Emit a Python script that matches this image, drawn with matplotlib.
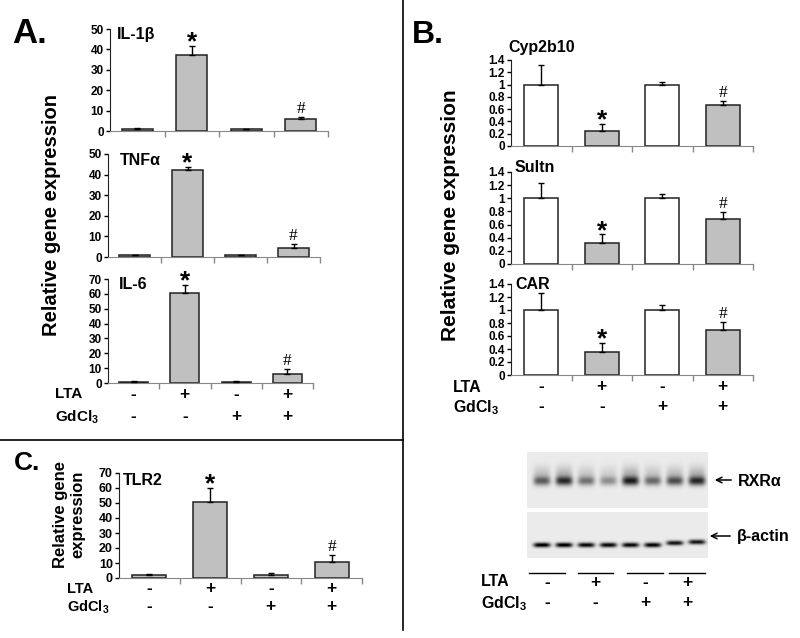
import numpy as np
import matplotlib
matplotlib.use('Agg')
import matplotlib.pyplot as plt
from matplotlib.ticker import FuncFormatter
from matplotlib.transforms import blended_transform_factory

plt.rcParams['font.family'] = ['Liberation Sans', 'DejaVu Sans']
plt.rcParams['font.weight'] = 'bold'
plt.rcParams['mathtext.fontset'] = 'custom'
plt.rcParams['mathtext.rm'] = 'Liberation Sans'
plt.rcParams['mathtext.bf'] = 'Liberation Sans:bold'

# treatment groups
lta = ['-', '+', '-', '+']
gdcl3 = ['-', '-', '+', '+']
star = [False, True, False, False]
hashm = [False, False, False, True]

# A. cytokines
il1b = [1.2, 37.5, 1.0, 5.8]
il1b_err = [0.2, 4.0, 0.2, 1.0]
tnfa = [1.0, 42.0, 1.0, 4.3]
tnfa_err = [0.2, 1.7, 0.2, 2.0]
il6 = [1.0, 60.5, 1.0, 6.3]
il6_err = [0.2, 5.5, 0.5, 3.0]

# C. TLR2
tlr2 = [1.8, 50.5, 1.8, 10.7]
tlr2_err = [1.1, 9.5, 1.8, 4.5]

# B. nuclear receptor targets
cyp2b10 = [1.0, 0.25, 1.0, 0.66]
cyp2b10_err = [0.32, 0.11, 0.05, 0.07]
sultn = [1.0, 0.32, 1.0, 0.69]
sultn_err = [0.24, 0.13, 0.06, 0.10]
car = [1.0, 0.36, 1.0, 0.70]
car_err = [0.26, 0.13, 0.07, 0.11]

# western blot, 8 lanes (2 per group)
rxra_band = [0.50, 0.68, 0.42, 0.32, 0.72, 0.45, 0.55, 0.68]
actin_band = [0.95, 0.95, 0.90, 0.90, 0.90, 0.92, 0.85, 0.85]
actin_row = [545, 545, 545, 545, 545, 545, 543, 542]

W, H = 800, 638
fig = plt.figure(figsize=(8, 6.38), dpi=100)
fig.patch.set_facecolor('white')

# overlay in pixel coords for free text and lines
ov = fig.add_axes([0, 0, 1, 1], zorder=5)
ov.set_xlim(0, W)
ov.set_ylim(H, 0)
ov.axis('off')

GRAY = '#c0c0c0'


def px_axes(x0, y0, x1, y1):
    return fig.add_axes([x0 / W, 1 - y1 / H, (x1 - x0) / W, (y1 - y0) / H])


def bar_panel(box, vals, errs, ymax, ystep, colors, fs_tick=8.5, width=0.57):
    ax = px_axes(*box)
    x = np.arange(4) + 0.5
    ax.bar(x, vals, width=width, color=colors, edgecolor='#222222', linewidth=1.1, zorder=2)
    ax.errorbar(x, vals, yerr=[np.zeros(4), errs], fmt='none', ecolor='black',
                elinewidth=1, capsize=2.5, capthick=1, zorder=3)
    ax.set_xlim(0, 4)
    ax.set_ylim(0, ymax)
    ax.set_yticks(np.arange(0, ymax + ystep / 2, ystep))
    ax.yaxis.set_major_formatter(FuncFormatter(lambda v, p: f'{v:g}'))
    ax.set_xticks([1, 2, 3, 4])
    ax.set_xticklabels([])
    for s in ['top', 'right']:
        ax.spines[s].set_visible(False)
    ax.spines['left'].set_color('#222222')
    ax.spines['bottom'].set_color('#888888')
    ax.tick_params(axis='y', length=3, width=1, pad=1.5, labelsize=fs_tick, colors='black')
    ax.tick_params(axis='x', length=4, width=1, color='#888888')
    ax.patch.set_alpha(0)
    for i in range(4):
        top = vals[i] + errs[i]
        if star[i]:
            ax.annotate('*', (x[i], top), xytext=(0, -2.5), textcoords='offset points',
                        ha='center', va='baseline', fontsize=19, fontweight='bold')
        if hashm[i]:
            ax.annotate('#', (x[i], top), xytext=(0, 3.2), textcoords='offset points',
                        ha='center', va='baseline', fontsize=12.5, fontweight='normal',
                        family='Liberation Serif')
    return ax


def sign_rows(ax, xlab, y1, y2, fs=11, sfs=12.5):
    tr = blended_transform_factory(ax.transData, ov.transData)
    ov.text(xlab, y1, 'LTA', ha='left', va='center', fontsize=fs)
    ov.text(xlab, y2 + 1, 'GdCl$_3$', ha='left', va='center', fontsize=fs)
    for i in range(4):
        ax.text(i + 0.5, y1, lta[i], transform=tr, ha='center', va='center', fontsize=sfs)
        ax.text(i + 0.5, y2, gdcl3[i], transform=tr, ha='center', va='center', fontsize=sfs)


# ---- panel A
a1 = bar_panel((110, 29, 328, 131), il1b, il1b_err, 50, 10, [GRAY] * 4)
a2 = bar_panel((108, 154, 320, 257), tnfa, tnfa_err, 50, 10, [GRAY] * 4)
a3 = bar_panel((108, 279, 313, 383), il6, il6_err, 70, 10, [GRAY] * 4)
sign_rows(a3, 55, 394, 416)
ov.text(117, 39.5, 'IL-1β', fontsize=11.5, va='baseline')
ov.text(120, 165, 'TNFα', fontsize=11.5, va='baseline')
ov.text(119, 289, 'IL-6', fontsize=11.5, va='baseline')
ov.text(52, 215, 'Relative gene expression', rotation=90, ha='center', va='center', fontsize=14.5)
ov.text(12, 43, 'A.', fontsize=25, va='baseline')

# ---- panel C
c1 = bar_panel((119, 473, 362, 578), tlr2, tlr2_err, 70, 10, [GRAY] * 4, fs_tick=9, width=0.56)
sign_rows(c1, 67, 589, 606, fs=10.5)
ov.text(123, 485, 'TLR2', fontsize=11.5, va='baseline')
ov.text(69, 514, 'Relative gene\nexpression', rotation=90, ha='center', va='center',
        fontsize=12, linespacing=1.15)
ov.text(14, 470, 'C.', fontsize=19, va='baseline')

# ---- panel B
bcols = ['white', GRAY, 'white', GRAY]
b1 = bar_panel((511, 60, 753, 146), cyp2b10, cyp2b10_err, 1.4, 0.2, bcols, width=0.56)
b2 = bar_panel((511, 172, 753, 264), sultn, sultn_err, 1.4, 0.2, bcols, width=0.56)
b3 = bar_panel((511, 284, 753, 375), car, car_err, 1.4, 0.2, bcols, width=0.56)
sign_rows(b3, 453, 387, 407, fs=11.5)
ov.text(508, 52, 'Cyp2b10', fontsize=11.5, va='baseline')
ov.text(515, 172, 'Sultn', fontsize=11.5, va='baseline')
ov.text(515, 289, 'CAR', fontsize=11.5, va='baseline')
ov.text(450, 215, 'Relative gene expression', rotation=90, ha='center', va='center', fontsize=15)
ov.text(412, 43, 'B.', fontsize=23, va='baseline')

# ---- western blot
bx0, bx1, by0, by1 = 527, 708, 452, 560
rows = np.arange(by0, by1) + 0.5
cols = np.arange(bx0, bx1) + 0.5
R, C = np.meshgrid(rows, cols, indexing='ij')
img = np.zeros_like(R)
strip1 = (R < 508)
strip2 = (R > 512) & (R < 558)
img[strip1 | strip2] = 0.08
lane_x = np.linspace(542, 697, len(rxra_band))
for i, lx in enumerate(lane_x):
    hp = np.exp(-((C - lx) / 8.5) ** 4)
    band = rxra_band[i] * np.exp(-((R - 481) / 4.5) ** 2)
    smear = 0.3 * rxra_band[i] * np.exp(-((R - 474) / 8.0) ** 2)
    img += (band + smear) * hp * strip1
    img += actin_band[i] * np.exp(-((R - actin_row[i]) / 2.4) ** 2) * hp * strip2
blot = px_axes(bx0, by0, bx1, by1)
blot.imshow(np.clip(img, 0, 1), cmap='gray_r', vmin=0, vmax=1, aspect='auto',
            extent=(bx0, bx1, by1, by0), interpolation='bilinear')
blot.axis('off')

ov.annotate('', xy=(712, 480), xytext=(734, 480),
            arrowprops=dict(arrowstyle='->', color='black', lw=1.1))
ov.text(738, 481, 'RXRα', fontsize=11.5, va='center')
ov.annotate('', xy=(707, 536), xytext=(733, 536),
            arrowprops=dict(arrowstyle='->', color='black', lw=1.1))
ov.text(737, 537, 'β-actin', fontsize=11.5, va='center')

groups = [(529, 565), (578, 613), (627, 663), (669, 705)]
for i, (g0, g1) in enumerate(groups):
    ov.plot([g0, g1], [573, 573], color='black', lw=1)
    ov.text((g0 + g1) / 2, 582, lta[i], ha='center', va='center', fontsize=12.5)
    ov.text((g0 + g1) / 2, 603, gdcl3[i], ha='center', va='center', fontsize=12.5)
ov.text(481, 582, 'LTA', ha='left', va='center', fontsize=11.5)
ov.text(481, 604, 'GdCl$_3$', ha='left', va='center', fontsize=11.5)

# separators
ov.plot([403, 403], [0, 630], color='black', lw=1.2)
ov.plot([0, 403], [440, 440], color='black', lw=1.2)

fig.savefig('out.png', dpi=100, facecolor='white')
